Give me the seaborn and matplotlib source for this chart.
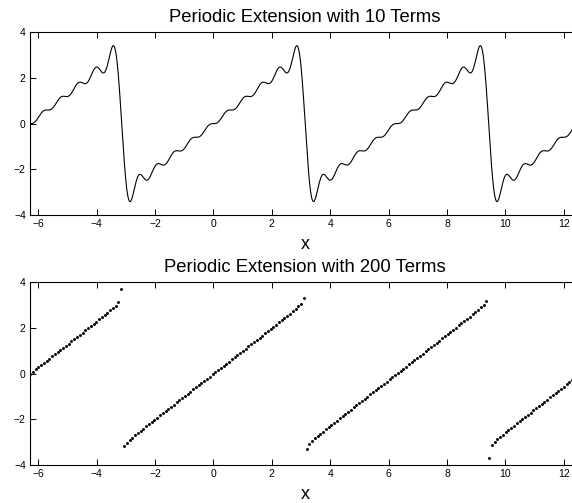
import numpy as np
import pandas as pd
import seaborn as sns
import matplotlib.pyplot as plt

# Fourier-Reihe von f(x) = x auf [-pi, pi], periodisch fortgesetzt
terms = [10, 200]            # Anzahl der Glieder je Teilbild
n_points = [1500, 200]       # Anzahl der Stuetzstellen je Teilbild
x_start = -2 * np.pi
x_end = 4 * np.pi
xticks = [-6, -4, -2, 0, 2, 4, 6, 8, 10, 12]
yticks = [-4, -2, 0, 2, 4]
titles = ["Periodic Extension with 10 Terms", "Periodic Extension with 200 Terms"]


def teilsumme(x, n_terms):
    # b_n = 2 (-1)^(n+1) / n
    n = np.arange(1, n_terms + 1)
    b = 2.0 * (-1.0) ** (n + 1) / n
    return np.sin(np.outer(x, n)) @ b


sns.set_style("ticks", {"axes.edgecolor": "black", "xtick.color": "black",
                        "ytick.color": "black", "text.color": "black",
                        "axes.labelcolor": "black"})
plt.rcParams['font.family'] = ['Liberation Sans', 'DejaVu Sans']

fig = plt.figure(figsize=(5.72, 5.03), dpi=100)
ax_top = fig.add_axes([0.0524, 0.5726, 0.9623, 0.3632])
ax_bot = fig.add_axes([0.0524, 0.0755, 0.9623, 0.3632])

for i, ax in enumerate([ax_top, ax_bot]):
    x = np.linspace(x_start, x_end, n_points[i])
    df = pd.DataFrame({"x": x, "y": teilsumme(x, terms[i])})
    if i == 0:
        sns.lineplot(data=df, x="x", y="y", ax=ax, color="black",
                     linewidth=0.8, estimator=None, sort=False)
    else:
        sns.scatterplot(data=df, x="x", y="y", ax=ax, color="black",
                        s=4.5, linewidth=0)

    ax.set_xlim(x_start, x_end)
    ax.set_ylim(-4, 4)
    ax.set_xticks(xticks)
    ax.set_yticks(yticks)
    ax.tick_params(direction="in", length=4, width=0.7, labelsize=7.5,
                   top=True, right=True, pad=3, colors="black")
    for s in ax.spines.values():
        s.set_linewidth(0.8)
        s.set_color("black")
        s.set_visible(True)
    ax.set_title(titles[i], fontsize=13.3, pad=7.5)
    ax.set_xlabel("x", fontsize=13, labelpad=5)
    ax.set_ylabel("")

fig.savefig("out.png", dpi=100)
